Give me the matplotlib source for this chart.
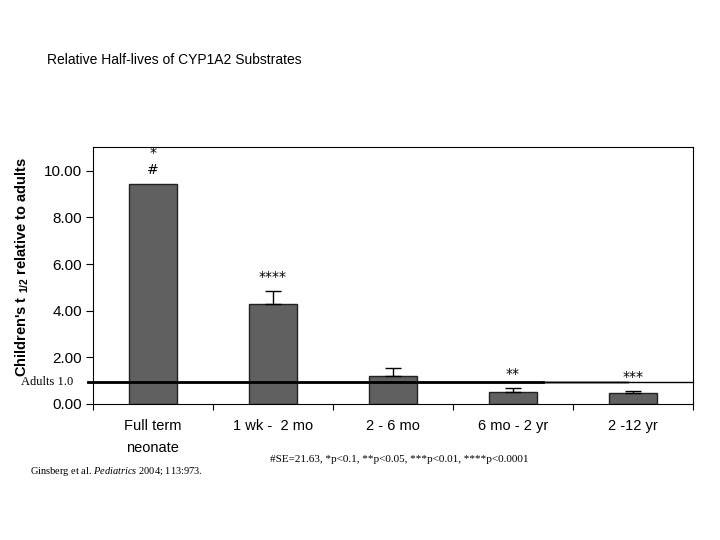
import matplotlib
matplotlib.use("Agg")
import matplotlib.pyplot as plt

# -----------------------------
# DATA
# -----------------------------
age_groups = ["Full term\nneonate", "1 wk -  2 mo", "2 - 6 mo", "6 mo - 2 yr", "2 -12 yr"]
half_life_ratio = [9.44, 4.29, 1.20, 0.52, 0.47]
error_upper = [0.0, 0.56, 0.35, 0.17, 0.09]
significance_marks = ["*\n#", "****", "", "**", "***"]
adult_level = 0.93
y_ticks = [0, 2, 4, 6, 8, 10]

plt.rcParams["font.family"] = ["Liberation Sans", "DejaVu Sans"]
plt.rcParams["mathtext.fontset"] = "custom"
plt.rcParams["mathtext.rm"] = "Liberation Sans"
plt.rcParams["mathtext.bf"] = "Liberation Sans:bold"
plt.rcParams["mathtext.it"] = "Liberation Serif:italic"

# -----------------------------
# PLOT SETUP
# -----------------------------
fig = plt.figure(figsize=(7.2, 5.4), dpi=100)
ax = fig.add_axes([0.129, 0.252, 0.833, 0.476])

x_positions = list(range(len(age_groups)))
ax.bar(x_positions, half_life_ratio, width=0.40, color="#606060",
       edgecolor="#222222", linewidth=1.0, zorder=2)

# only bars with a measured spread get an error bar (upper side only)
err_x = [x for x, e in zip(x_positions, error_upper) if e > 0]
err_y = [y for y, e in zip(half_life_ratio, error_upper) if e > 0]
err_v = [e for e in error_upper if e > 0]
ax.errorbar(err_x, err_y, yerr=[[0] * len(err_v), err_v],
            fmt="none", ecolor="black", elinewidth=1.0, capsize=6, zorder=3)

ax.set_xlim(-0.5, 4.46)
ax.set_ylim(0, 11.03)
ax.set_yticks(y_ticks)
ax.set_yticklabels([f"{v:.2f}" for v in y_ticks], fontsize=11)
ax.set_xticks([i + 0.5 for i in range(-1, len(age_groups))], minor=False)
ax.set_xticklabels([])
ax.set_xticks(x_positions, minor=True)
ax.set_xticklabels(age_groups, minor=True, fontsize=10.5, linespacing=1.7)
ax.tick_params(axis="x", which="minor", length=0, pad=11)
ax.tick_params(axis="x", which="major", length=4, direction="out")
ax.tick_params(axis="y", length=5, direction="out", pad=3)

# adult reference line: thin across the whole width, thick over most of it
y_axis_tf = ax.get_yaxis_transform()
ax.plot([-0.008, 1.0], [adult_level, adult_level], color="black", linewidth=1.0,
        transform=y_axis_tf, clip_on=False, zorder=4)
ax.plot([-0.008, 0.75], [adult_level, adult_level], color="black", linewidth=2.0,
        transform=y_axis_tf, clip_on=False, zorder=4)
ax.plot([0.75, 0.89], [adult_level, adult_level], color="#999999", linewidth=2.0,
        transform=y_axis_tf, clip_on=False, zorder=3.9)
ax.text(-0.033, adult_level, "Adults 1.0", transform=y_axis_tf,
        ha="right", va="center", fontsize=9, family="Liberation Serif")

# significance marks above the bars
for x_value, bar_top, err, mark in zip(x_positions, half_life_ratio, error_upper, significance_marks):
    if mark:
        ax.text(x_value, bar_top + err + 0.3, mark, ha="center", va="bottom",
                fontsize=10, family="DejaVu Sans", linespacing=1.3)

ax.set_ylabel(r"Children's t $_{\mathbf{1/2}}$ relative to adults",
              fontsize=10.5, fontweight="bold")
ax.yaxis.set_label_coords(-0.104, 0.535)

fig.text(0.065, 0.881, "Relative Half-lives of CYP1A2 Substrates", fontsize=10)
fig.text(0.375, 0.144, "#SE=21.63, *p<0.1, **p<0.05, ***p<0.01, ****p<0.0001",
         fontsize=8, family="Liberation Serif")
fig.text(0.042, 0.123, r"Ginsberg et al. $\it{Pediatrics}$ 2004; 113:973.",
         fontsize=7.5, family="Liberation Serif")

fig.savefig("out.png", dpi=100)
